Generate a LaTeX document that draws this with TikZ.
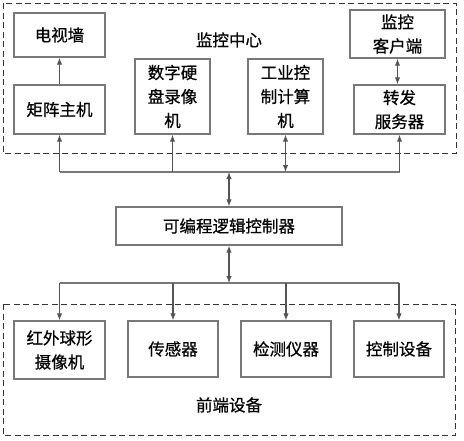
\documentclass[tikz,border=0pt]{standalone}
\usepackage{fontspec}
\setmainfont[FakeBold=0.6]{Noto Sans CJK SC}
\usetikzlibrary{arrows.meta}
\definecolor{boxgray}{RGB}{120,120,120}
\definecolor{linegray}{RGB}{85,85,85}

\begin{document}
\begin{tikzpicture}[x=1pt, y=-1pt, font=\fontsize{16.5}{24}\selectfont,
  unit/.style={draw=boxgray, line width=1.3pt, inner sep=2pt, align=center},
  link/.style={draw=linegray, line width=1.1pt, -{Latex[length=7pt,width=5.5pt]}},
  twoway/.style={draw=linegray, line width=1.1pt, {Latex[length=7pt,width=5.5pt]}-{Latex[length=7pt,width=5.5pt]}},
  bus/.style={draw=boxgray, line width=1.3pt},
  group/.style={draw=black!80, line width=1pt, dash pattern=on 6pt off 3.5pt}]
  \useasboundingbox (0,0) rectangle (464,440);
  % dashed groups
  \draw[group] (3,3) rectangle (456,153);
  \draw[group] (3,304) rectangle (455,435);
  \node (centre) at (229,40) {监控中心};
  \node (front) at (229,405) {前端设备};
  % monitoring centre
  \node[unit, minimum width=91pt, minimum height=44pt] (tvwall) at (59.5,35) {电视墙};
  \node[unit, minimum width=91pt, minimum height=49pt] (matrix) at (59.5,109.5) {矩阵主机};
  \node[unit, minimum width=75pt, minimum height=75pt] (dvr) at (172.5,96.5) {数字硬\\盘录像\\机};
  \node[unit, minimum width=75pt, minimum height=75pt] (ipc) at (285.5,96.5) {工业控\\制计算\\机};
  \node[unit, minimum width=95pt, minimum height=48pt] (client) at (397.5,34) {监控\\客户端};
  \node[unit, minimum width=91pt, minimum height=49pt] (relay) at (399.5,109.5) {转发\\服务器};
  % controller
  \node[unit, minimum width=226pt, minimum height=38pt] (plc) at (229,226) {可编程逻辑控制器};
  % front-end devices
  \node[unit, minimum width=91pt, minimum height=58pt] (cam) at (59.5,350) {红外球形\\摄像机};
  \node[unit, minimum width=90pt, minimum height=56pt] (sensor) at (173,349) {传感器};
  \node[unit, minimum width=90pt, minimum height=56pt] (meter) at (286,349) {检测仪器};
  \node[unit, minimum width=90pt, minimum height=56pt] (ctrl) at (399,349) {控制设备};
  % bus junctions
  \coordinate (t1) at (matrix.south |- 0,172);
  \coordinate (t2) at (dvr.south |- 0,172);
  \coordinate (t3) at (ipc.south |- 0,172);
  \coordinate (t4) at (relay.south |- 0,172);
  \coordinate (tm) at (plc.north |- 0,172);
  \coordinate (b1) at (cam.north |- 0,283);
  \coordinate (b2) at (sensor.north |- 0,283);
  \coordinate (b3) at (meter.north |- 0,283);
  \coordinate (b4) at (ctrl.north |- 0,283);
  \coordinate (bm) at (plc.south |- 0,283);
  % upper links
  \draw[link] (matrix) -- (tvwall);
  \draw[twoway] (client) -- (client.south |- relay.north);
  \draw[bus] (t1) -- (t4);
  \draw[link] (t1) -- (matrix.south);
  \draw[link] (t2) -- (dvr.south);
  \draw[twoway] (t3) -- (ipc.south);
  \draw[link] (t4) -- (relay.south);
  \draw[twoway] (plc) -- (tm);
  % lower links
  \draw[twoway] (plc) -- (bm);
  \draw[bus] (b1) -- (b4);
  \draw[link] (b1) -- (cam);
  \draw[link] (b2) -- (sensor);
  \draw[link] (b3) -- (meter);
  \draw[link] (b4) -- (ctrl);
\end{tikzpicture}
\end{document}
